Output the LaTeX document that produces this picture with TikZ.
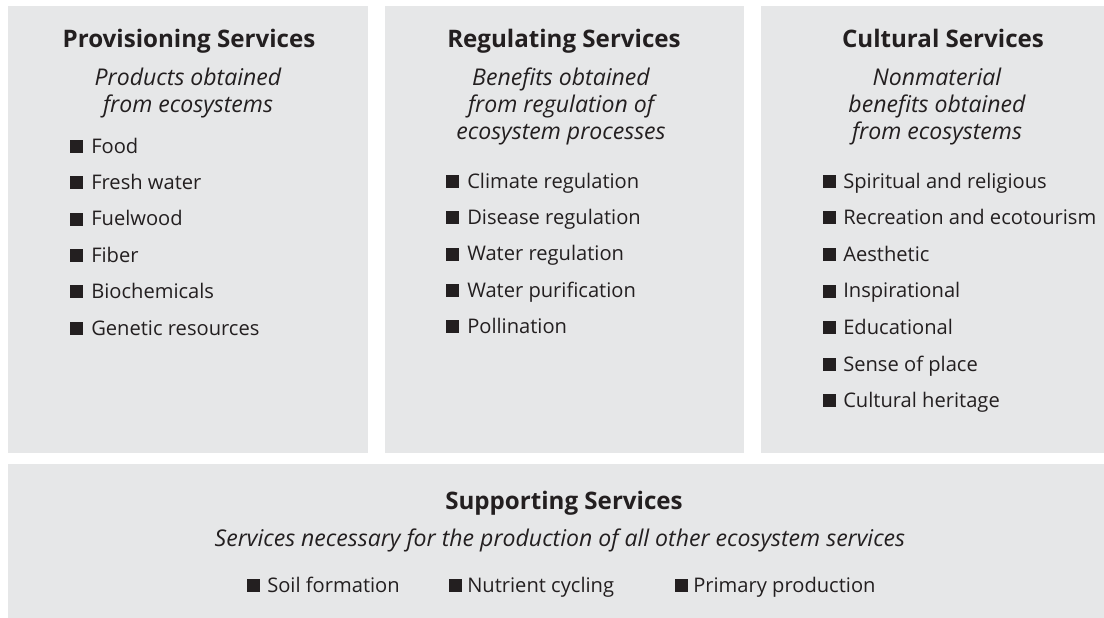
\documentclass[tikz,border=0pt]{standalone}
\usepackage{fontspec}
\setmainfont{Open Sans}
\usetikzlibrary{positioning}
\definecolor{panelgray}{HTML}{E6E7E8}
\definecolor{ink}{HTML}{231F20}
\tikzset{
  panel/.style={fill=panelgray, draw=none},
  heading/.style={font=\bfseries\fontsize{18.1}{21}\selectfont, text=ink, inner sep=0pt, anchor=base},
  blurb/.style={font=\itshape\fontsize{17.3}{20}\selectfont, text=ink, inner sep=0pt, anchor=base},
  bulletsq/.style={fill=ink, minimum size=9.75pt, inner sep=0pt, anchor=south west},
  entry/.style={font=\fontsize{15.1}{18}\selectfont, text=ink, inner sep=0pt, anchor=base west}
}
\begin{document}
\begin{tikzpicture}[x=0.75pt,y=-0.75pt]
	\useasboundingbox (0,0) rectangle (1104,618);
	% panels
	\fill[panel] (8,6) rectangle (368,453);
	\fill[panel] (385,6) rectangle (744,453);
	\fill[panel] (761,6) rectangle (1104,453);
	\fill[panel] (8,464) rectangle (1104,618);

	% provisioning
	\node[heading] (prov) at (189,47) {Provisioning Services};
	\foreach \txt [count=\k] in {Products obtained, from ecosystems}
	{ \node[blurb] (provsub\k) at (188,{85+27*(\k-1)}) {\txt};
	}
	\foreach \txt [count=\k] in {Food, Fresh water, Fuelwood, Fiber, Biochemicals, Genetic resources}
	{ \node[bulletsq] (provbox\k) at (70,{153+36.4*(\k-1)}) {};
	  \node[entry] (provitem\k) at (91,{153+36.4*(\k-1)}) {\txt};
	}

	% regulating
	\node[heading] (regu) at (564,47) {Regulating Services};
	\foreach \txt [count=\k] in {Benefits obtained, from regulation of, ecosystem processes}
	{ \node[blurb] (regusub\k) at (561,{85+27*(\k-1)}) {\txt};
	}
	\foreach \txt [count=\k] in {Climate regulation, Disease regulation, Water regulation, Water purification, Pollination}
	{ \node[bulletsq] (regubox\k) at (446,{188+36.4*(\k-1)}) {};
	  \node[entry] (reguitem\k) at (467,{188+36.4*(\k-1)}) {\txt};
	}

	% cultural
	\node[heading] (cult) at (943,47) {Cultural Services};
	\foreach \txt [count=\k] in {Nonmaterial, benefits obtained, from ecosystems}
	{ \node[blurb] (cultsub\k) at (937,{85+27*(\k-1)}) {\txt};
	}
	\foreach \txt [count=\k] in {Spiritual and religious, Recreation and ecotourism, Aesthetic, Inspirational, Educational, Sense of place, Cultural heritage}
	{ \node[bulletsq] (cultbox\k) at (823,{188+36.6*(\k-1)}) {};
	  \node[entry] (cultitem\k) at (843,{188+36.6*(\k-1)}) {\txt};
	}

	% supporting
	\node[heading] (supp) at (564,509) {Supporting Services};
	\node[blurb] (suppsub) at (560,546) {Services necessary for the production of all other ecosystem services};
	\foreach \bx/\tx/\txt [count=\k] in {247/267/Soil formation, 449/467/Nutrient cycling, 675/693/Primary production}
	{ \node[bulletsq] (suppbox\k) at (\bx,592) {};
	  \node[entry] (suppitem\k) at (\tx,592) {\txt};
	}
\end{tikzpicture}
\end{document}
